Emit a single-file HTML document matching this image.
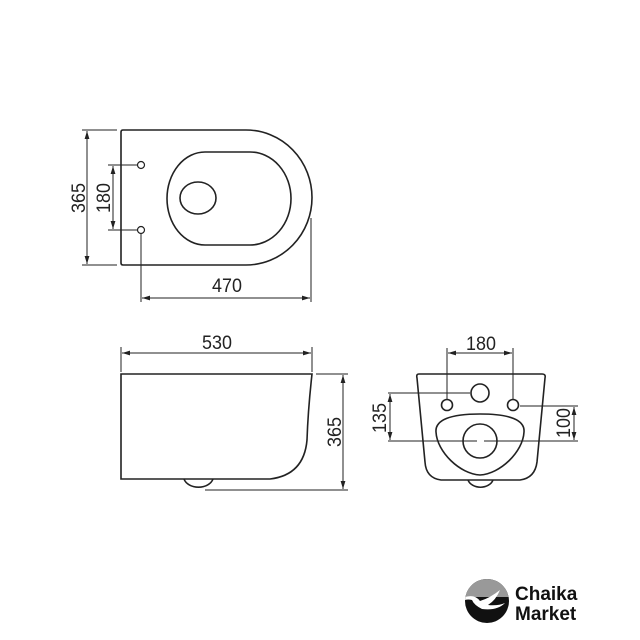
<!DOCTYPE html>
<html><head><meta charset="utf-8"><style>
html,body{margin:0;padding:0;background:#fff;}
svg{display:block;}
text{font-family:"Liberation Sans",sans-serif;fill:#222;}
</style></head><body>
<svg width="640" height="640" viewBox="0 0 640 640" xmlns="http://www.w3.org/2000/svg">
<defs>
<marker id="a" viewBox="0 0 10 6" refX="10" refY="3" markerWidth="8" markerHeight="5" orient="auto-start-reverse" markerUnits="userSpaceOnUse"><path d="M0,0 L10,3 L0,6 z" fill="#222"/></marker>
</defs>
<g fill="none" stroke="#222" stroke-width="1.6">
<path d="M123,130 L246,130 A66,67.5 0 0 1 246,265 L123,265 Q121,265 121,263 L121,132 Q121,130 123,130 Z"/>
<path d="M205,152 L250,152 A41,46.5 0 0 1 250,245 L205,245 A38,46.5 0 0 1 205,152 Z"/>
<ellipse cx="198" cy="198" rx="18" ry="16"/>
<circle cx="141" cy="165" r="3.5" stroke-width="1.2"/>
<circle cx="141" cy="230" r="3.5" stroke-width="1.2"/>
</g>
<g fill="none" stroke="#222" stroke-width="1">
<line x1="82" y1="130" x2="117" y2="130"/>
<line x1="82" y1="265" x2="117" y2="265"/>
<line x1="87" y1="131" x2="87" y2="264" marker-start="url(#a)" marker-end="url(#a)"/>
<line x1="108" y1="165" x2="137" y2="165"/>
<line x1="108" y1="230" x2="137" y2="230"/>
<line x1="113" y1="166" x2="113" y2="229" marker-start="url(#a)" marker-end="url(#a)"/>
<line x1="141" y1="234" x2="141" y2="302"/>
<line x1="311" y1="218" x2="311" y2="302"/>
<line x1="142" y1="298" x2="310" y2="298" marker-start="url(#a)" marker-end="url(#a)"/>
</g>
<g font-size="19.5" text-anchor="middle">
<text transform="translate(227,292) scale(0.92,1)">470</text>
<text transform="translate(85,198) rotate(-90) scale(0.92,1)">365</text>
<text transform="translate(110,198) rotate(-90) scale(0.92,1)">180</text>
<text transform="translate(217,349) scale(0.92,1)">530</text>
<text transform="translate(341,432) rotate(-90) scale(0.92,1)">365</text>
<text transform="translate(481,350) scale(0.92,1)">180</text>
<text transform="translate(386,418) rotate(-90) scale(0.92,1)">135</text>
<text transform="translate(570,423) rotate(-90) scale(0.92,1)">100</text>
</g>

<g fill="none" stroke="#222" stroke-width="1.6">
<path d="M121,374 L312,374 Q308,410 307,440 Q304,475 270,479 L121,479 Z"/>
<path d="M184,479 A15,11 0 0 0 213,479"/>
</g>
<g fill="none" stroke="#222" stroke-width="1">
<line x1="121" y1="347" x2="121" y2="372"/>
<line x1="312" y1="347" x2="312" y2="372"/>
<line x1="122" y1="353" x2="311" y2="353" marker-start="url(#a)" marker-end="url(#a)"/>
<line x1="316" y1="374" x2="348" y2="374"/>
<line x1="205" y1="490" x2="348" y2="490"/>
<line x1="343" y1="375" x2="343" y2="489" marker-start="url(#a)" marker-end="url(#a)"/>
</g>

<g fill="none" stroke="#222" stroke-width="1.6">
<path d="M419,374 L542,374 Q546,374 545,378 L537,462 Q535,478 520,480 L441,480 Q426,478 425,462 L417,378 Q416,374 419,374 Z"/>
<path d="M468,480 A13,10 0 0 0 493,480"/>
<circle cx="480" cy="393" r="9"/>
<circle cx="447" cy="405" r="5.5"/>
<circle cx="513" cy="405" r="5.5"/>
<path d="M480,414 C510,414 525,420 524,432 C523,452 500,474 480,475 C460,474 437,452 436,432 C435,420 450,414 480,414 Z"/>
<circle cx="480" cy="441" r="17"/>
</g>
<g fill="none" stroke="#222" stroke-width="1">
<line x1="447" y1="348" x2="447" y2="399"/>
<line x1="513" y1="348" x2="513" y2="399"/>
<line x1="448" y1="353" x2="512" y2="353" marker-start="url(#a)" marker-end="url(#a)"/>
<line x1="388" y1="393" x2="470" y2="393"/>
<line x1="388" y1="441" x2="477" y2="441"/>
<line x1="484" y1="441" x2="578" y2="441"/>
<line x1="520" y1="406" x2="578" y2="406"/>
<line x1="390" y1="394" x2="390" y2="440" marker-start="url(#a)" marker-end="url(#a)"/>
<line x1="574" y1="407" x2="574" y2="440" marker-start="url(#a)" marker-end="url(#a)"/>
</g>

<clipPath id="c"><circle cx="487" cy="601" r="22"/></clipPath>
<g clip-path="url(#c)">
<rect x="465" y="579" width="44" height="44" fill="#111"/>
<rect x="465" y="579" width="44" height="18" fill="#999"/>
<path d="M465,597 Q475,594 480,601 Q490,598 500,590 Q496,600 488,605 Q498,606 505,603 Q497,611 482,609 Q474,605 472,600 Q468,599 465,600 Z" fill="#fff"/>
</g>
<text x="515" y="600" font-size="19" font-weight="bold" style="fill:#111">Chaika</text>
<text x="515" y="620" font-size="19" font-weight="bold" style="fill:#111">Market</text>
</svg>
</body></html>
